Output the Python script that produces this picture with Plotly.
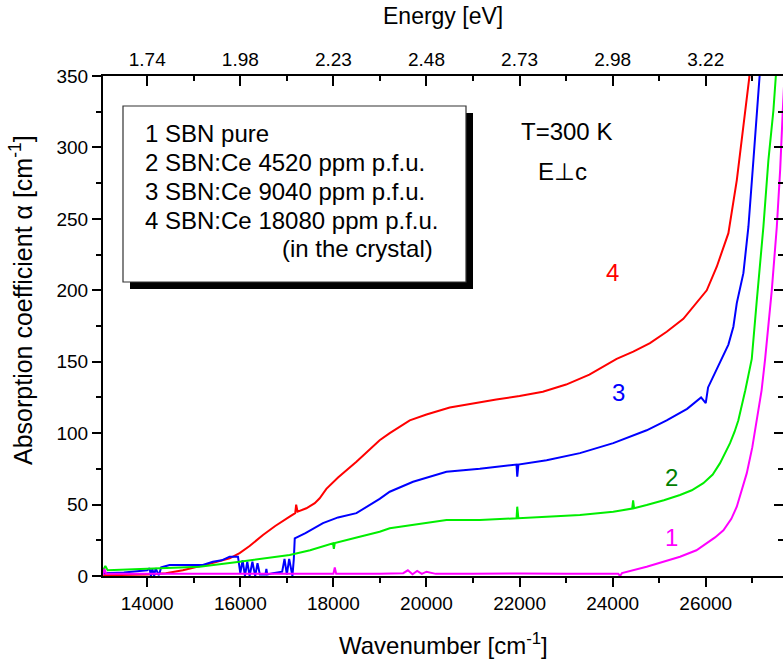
import plotly.graph_objects as go

# ---------------- data ----------------
w_pure = [13050, 13080, 13120, 13300, 14000, 15000, 16000, 17000, 18000, 18030, 18060,
          19000, 19500, 19600, 19700, 19800, 19900, 20000, 20200, 21000, 22000, 23000,
          24000, 24120, 24160, 24200, 24731, 25000, 25447, 25800, 26022, 26200, 26380,
          26550, 26667, 26780, 26882, 27000, 27097, 27200, 27276, 27350, 27419, 27527,
          27600, 27656, 27700]
a_pure = [0.5, 5, 1.5, 1.5, 1.5, 1.5, 1.5, 1.5, 1.5, 6, 1.5,
          1.5, 2, 4, 1.2, 3.5, 1.5, 3, 1.5, 1.5, 1.8, 1.5,
          1.5, 1.5, 0, 2, 6.5, 9, 13.5, 18, 23, 27, 32,
          40, 48.5, 60, 72, 90, 109, 130, 152, 176, 200, 244.5,
          285, 326, 355]

w_ce4520 = [13050, 13100, 13150, 14194, 15125, 15985, 16500, 17060, 17500, 17991, 18010,
            18030, 18500, 18994, 19211, 19712, 20430, 21146, 21935, 21950, 21975, 22581,
            23297, 24013, 24420, 24440, 24460, 24731, 25100, 25447, 25700, 25948, 26150,
            26307, 26420, 26522, 26620, 26701, 26850, 26989, 27097, 27239, 27346, 27454,
            27505, 27530]
a_ce4520 = [4, 7, 4, 5.4, 6.5, 10, 12.5, 14.7, 18, 22.9, 19,
            23, 27, 31, 33.4, 35.7, 39.2, 39.2, 40.4, 48.5, 40.4, 41.5,
            42.7, 45, 47.2, 53, 47.5, 49.7, 53, 56.7, 60, 65, 71,
            79, 86, 93, 101, 109, 130, 152, 193, 244.5, 291, 326,
            349.5, 360]

w_ce9040 = [13050, 13500, 14000, 14050, 14080, 14110, 14150, 14180, 14250, 14300, 14480,
            15195, 15410, 15600, 15770, 15950, 16000, 16050, 16100, 16150, 16200, 16260,
            16320, 16370, 16420, 16540, 16560, 16580, 16700, 16900, 16950, 17000, 17050,
            17120, 17150, 17170, 17400, 17776, 18100, 18495, 18994, 19211, 19712, 20430,
            21146, 21500, 21935, 21950, 21975, 22581, 23297, 24013, 24731, 25161, 25600,
            25900, 26000, 26050, 26200, 26344, 26487, 26594, 26667, 26809, 26917, 27024,
            27097, 27153, 27180]
a_ce9040 = [2, 2.5, 4, 5.4, 0, 5, 0, 5.5, 0.5, 6, 7.7,
            7.7, 10, 11, 13.5, 13.5, 2, 11, 0, 10, 0, 10,
            0, 9, 1, 1, 5, 1, 2, 3, 12, 1, 12,
            0, 12, 26.4, 30, 37, 41, 44, 54, 59, 66, 73,
            75, 76.5, 78, 69.5, 78, 81, 86, 93, 102, 109, 117,
            125, 121, 132, 142, 152, 162, 174.5, 191, 212, 244.5, 291,
            326, 349.5, 360]

w_ce18080 = [13050, 14000, 14400, 14765, 15340, 15770, 15985, 16200, 16487, 16750, 17060,
             17180, 17200, 17230, 17419, 17600, 17705, 17849, 18100, 18495, 18994, 19211,
             19641, 20000, 20500, 21000, 21500, 22000, 22500, 23000, 23500, 24086, 24443,
             24802, 25161, 25519, 25806, 26022, 26237, 26487, 26667, 26809, 26938, 26960]
a_ce18080 = [0.5, 1, 2, 4, 8.5, 12.4, 16, 21, 28.7, 35, 41.5,
             44, 50, 45, 47.4, 51, 54.4, 61, 69, 80, 95, 100,
             109, 113, 118, 121, 123.5, 126, 129, 134, 141, 152, 157,
             163, 171, 180, 191, 200, 216.5, 240, 277, 314.5, 349.5, 360]

bottom_ticks = [14000, 16000, 18000, 20000, 22000, 24000, 26000]
bottom_minor = [15000, 17000, 19000, 21000, 23000, 25000, 27000]
energy_labels = ["1.74", "1.98", "2.23", "2.48", "2.73", "2.98", "3.22"]
y_ticks = [0, 50, 100, 150, 200, 250, 300, 350]
y_minor = [25, 75, 125, 175, 225, 275, 325]

legend_lines = ["1 SBN pure", "2 SBN:Ce 4520 ppm p.f.u.", "3 SBN:Ce 9040 ppm p.f.u.",
                "4 SBN:Ce 18080 ppm p.f.u."]

X_RANGE = [13050, 27660]
Y_RANGE = [0, 350]

FONT = "Liberation Sans, Arial, Helvetica, sans-serif"

# ---------------- figure ----------------
fig = go.Figure()
for w, a, col, name in [(w_ce18080, a_ce18080, "#ff0000", "4"),
                        (w_ce9040, a_ce9040, "#0000ff", "3"),
                        (w_ce4520, a_ce4520, "#00ee00", "2"),
                        (w_pure, a_pure, "#ff00ff", "1")]:
    fig.add_trace(go.Scatter(x=w, y=a, mode="lines", line=dict(color=col, width=2),
                             name=name, showlegend=False, hoverinfo="skip", cliponaxis=True))
# empty trace to anchor the top/right axes
fig.add_trace(go.Scatter(x=[], y=[], xaxis="x2", yaxis="y2", showlegend=False))

W, H = 783, 666
L, R, T, B = 103, 0, 76, 90
pw, ph = W - L - R, H - T - B


def px(x):
    return (x - L) / pw


def py(y):
    return (H - B - y) / ph


axis_common = dict(showgrid=False, zeroline=False, showline=True, linecolor="black",
                   linewidth=2, tickcolor="black", tickwidth=1.5, automargin=False,
                   tickfont=dict(family=FONT, size=19, color="black"))

fig.update_layout(
    width=W, height=H, margin=dict(l=L, r=R, t=T, b=B, autoexpand=False),
    paper_bgcolor="white", plot_bgcolor="white",
    xaxis=dict(range=X_RANGE, tickvals=bottom_ticks, tickformat="d", ticks="outside", ticklen=9,
               minor=dict(tickvals=bottom_minor, ticks="outside", ticklen=5,
                          tickcolor="black", tickwidth=1.5),
               **axis_common),
    xaxis2=dict(range=X_RANGE, overlaying="x", side="top", anchor="y",
                tickvals=bottom_ticks, ticktext=energy_labels, ticks="inside", ticklen=10,
                minor=dict(tickvals=bottom_minor, ticks="inside", ticklen=5,
                           tickcolor="black", tickwidth=1.5),
                **axis_common),
    yaxis=dict(range=Y_RANGE, tickvals=y_ticks, ticks="outside", ticklen=9,
               minor=dict(tickvals=y_minor, ticks="outside", ticklen=5,
                          tickcolor="black", tickwidth=1.5),
               **axis_common),
    yaxis2=dict(range=Y_RANGE, overlaying="y", side="right", anchor="x",
                tickvals=y_ticks, ticks="inside", ticklen=9, showticklabels=False,
                minor=dict(tickvals=y_minor, ticks="inside", ticklen=5,
                           tickcolor="black", tickwidth=1.5),
                **axis_common),
)

# legend box with shadow
fig.add_shape(type="rect", xref="paper", yref="paper",
              x0=px(130), x1=px(473), y0=py(289), y1=py(113),
              fillcolor="black", line=dict(width=0), layer="above")
fig.add_shape(type="rect", xref="paper", yref="paper",
              x0=px(123), x1=px(466), y0=py(282), y1=py(106),
              fillcolor="white", line=dict(color="#333333", width=1.2), layer="above")

ann = []
for i, t in enumerate(legend_lines):
    ann.append(dict(text=t, x=px(143), y=py(133 + 29 * i), xanchor="left", yanchor="middle"))
ann.append(dict(text="(in the crystal)", x=px(280), y=py(248), xanchor="left", yanchor="middle"))
ann.append(dict(text="T=300 K", x=px(566), y=py(131), xanchor="center", yanchor="middle"))
ann.append(dict(text="E\u22a5c", x=px(562), y=py(172), xanchor="center", yanchor="middle"))
for t, x, y, c in [("4", 612, 272, "#ff0000"), ("3", 618, 392, "#0000ff"),
                   ("2", 671.5, 477, "#008000"), ("1", 671, 537, "#ff00ff")]:
    ann.append(dict(text=t, x=px(x), y=py(y), xanchor="center", yanchor="middle",
                    font=dict(family=FONT, size=24, color=c)))
ann.append(dict(text="Energy [eV]", x=px(443), y=py(16), xanchor="center", yanchor="middle",
                font=dict(family=FONT, size=23, color="black")))
ann.append(dict(text="Wavenumber [cm<sup>-1</sup>]", x=px(443), y=py(644),
                xanchor="center", yanchor="middle",
                font=dict(family=FONT, size=24, color="black")))
ann.append(dict(text="Absorption coefficient \u03b1 [cm<sup>-1</sup>]", x=px(21), y=py(300),
                xanchor="center", yanchor="middle", textangle=-90,
                font=dict(family=FONT, size=25, color="black")))

for a in ann:
    a.setdefault("font", dict(family=FONT, size=24, color="black"))
    a.update(xref="paper", yref="paper", showarrow=False)
    fig.add_annotation(**a)

fig.write_html("out.html", config={"displayModeBar": False},
               post_script="document.body.style.margin='0px';document.body.style.overflow='hidden';")
